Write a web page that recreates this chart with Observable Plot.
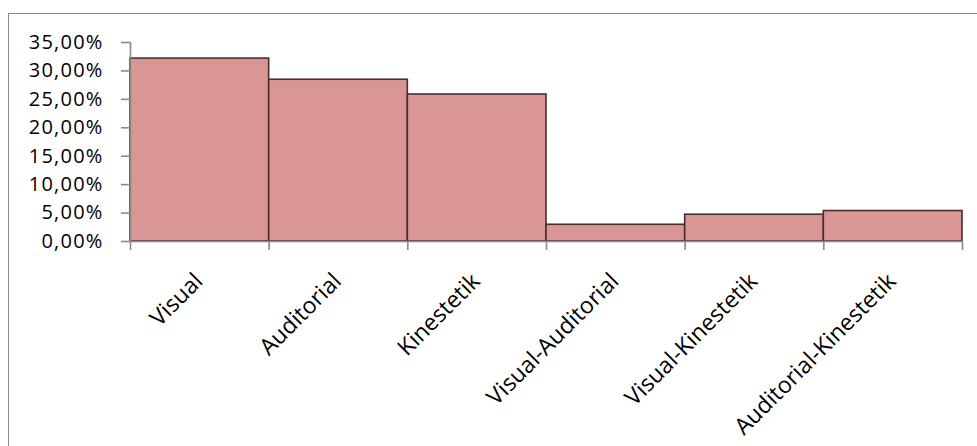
<!DOCTYPE html>
<html>
<head>
<meta charset="utf-8">
<script src="https://cdn.jsdelivr.net/npm/d3@7"></script>
<script src="https://cdn.jsdelivr.net/npm/@observablehq/plot@0.6"></script>
<style>
  html, body { margin: 0; padding: 0; background: #fff; overflow: hidden; }
  #wrap { position: relative; width: 977px; height: 446px; }
  #frame { position: absolute; left: 8px; top: 13px; width: 2000px; height: 2000px;
           border-left: 1.4px solid #8a8a8a; border-top: 1.4px solid #8a8a8a; pointer-events: none; }
  #chart { position: absolute; left: 0; top: 0; }
</style>
</head>
<body>
<div id="wrap"><div id="frame"></div><div id="chart"></div></div>
<script>
const categories = ["Visual", "Auditorial", "Kinestetik", "Visual-Auditorial", "Visual-Kinestetik", "Auditorial-Kinestetik"];
const values = [0.3217, 0.2845, 0.2585, 0.0294, 0.0471, 0.0536];
const yTicks = [0, 0.05, 0.10, 0.15, 0.20, 0.25, 0.30, 0.35];

const data = categories.map((c, i) => ({cat: c, i, v: values[i]}));
const fmt = d => (d * 100).toFixed(2).replace(".", ",") + "%";
const grey = "#8a8a8a";

const plot = Plot.plot({
  width: 977,
  height: 446,
  marginLeft: 130,
  marginRight: 15,
  marginTop: 42,
  marginBottom: 205,
  style: {fontFamily: "'Open Sans', sans-serif", background: "transparent", overflow: "visible"},
  x: {type: "linear", domain: [0, categories.length]},
  y: {domain: [0, 0.35]},
  marks: [
    Plot.rectY(data, {x1: "i", x2: d => d.i + 1, y: "v", fill: "#d99694", stroke: "#45302e", strokeWidth: 1.6}),
    Plot.ruleX([0], {stroke: grey, strokeWidth: 1.6}),
    Plot.ruleY([0], {stroke: grey, strokeWidth: 1.6}),
    Plot.axisY({ticks: yTicks, tickFormat: fmt, tickSize: 9, tickPadding: 18, stroke: grey, strokeWidth: 1.6, fontSize: 20, fill: "#000", label: null}),
    Plot.axisX({ticks: d3.range(0, categories.length + 1), tickFormat: () => "", tickSize: 9, stroke: grey, strokeWidth: 1.6, label: null}),
    Plot.text(data, {x: d => d.i + 0.5, y: () => 0, text: "cat", rotate: -45, textAnchor: "end", lineAnchor: "middle", dx: -1, dy: 36, fontSize: 23, fill: "#000"})
  ]
});
document.getElementById("chart").appendChild(plot);
d3.select(plot).selectAll("[aria-label='y-axis tick label'] text").style("letter-spacing", "1.2px");
</script>
</body>
</html>
